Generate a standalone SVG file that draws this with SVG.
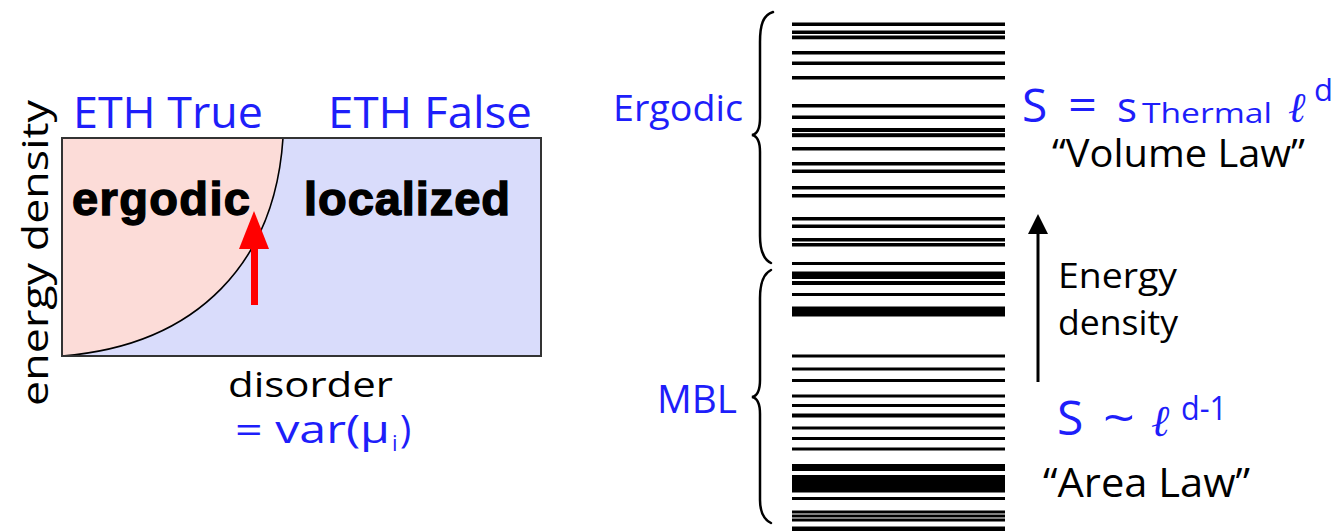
<svg xmlns="http://www.w3.org/2000/svg" width="1342" height="531" viewBox="0 0 1342 531">
<style>
.blue{fill:#1e1efa;font-family:"Open Sans","Liberation Sans",sans-serif}
.blk{fill:#000;font-family:"Open Sans","Liberation Sans",sans-serif}
.bold{fill:#000;font-family:"Liberation Sans","DejaVu Sans",sans-serif;font-weight:bold;stroke:#000;stroke-width:1.4}
.script{font-family:"Liberation Serif","DejaVu Serif",serif;font-style:italic}
.brace{fill:none;stroke:#000;stroke-width:2.5;stroke-linecap:round}
.bars rect{fill:#000}
</style>
<rect width="1342" height="531" fill="#fff"/>

<g id="phase-diagram">
  <rect x="62" y="138" width="479" height="218" fill="#d9dcfb"/>
  <path d="M62,138 L283,138 C275,260 200,345 62,356 Z" fill="#fcdcd8"/>
  <path d="M283,138 C275,260 200,345 62,356" fill="none" stroke="#000" stroke-width="1.6"/>
  <rect x="62" y="138" width="479" height="218" fill="none" stroke="#333" stroke-width="2"/>
  <text class="bold" x="72" y="215" font-size="47" textLength="178" lengthAdjust="spacing">ergodic</text>
  <text class="bold" x="304" y="215" font-size="47" textLength="206" lengthAdjust="spacing">localized</text>
</g>

<g id="red-arrow">
  <rect x="251" y="246" width="7" height="59" fill="#ff0000"/>
  <polygon points="239,249 269,249 254,211" fill="#ff0000"/>
</g>

<g id="axis-labels">
  <text class="blue" x="73" y="128" font-size="44" textLength="190" lengthAdjust="spacingAndGlyphs">ETH True</text>
  <text class="blue" x="328" y="128" font-size="44" textLength="204" lengthAdjust="spacingAndGlyphs">ETH False</text>
  <text class="blk" transform="translate(48,253) rotate(-90)" text-anchor="middle" font-size="37" textLength="306" lengthAdjust="spacingAndGlyphs">energy density</text>
  <text class="blk" x="228" y="397" font-size="35" textLength="165" lengthAdjust="spacingAndGlyphs">disorder</text>
  <text class="blue" x="235" y="443" font-size="38" textLength="155" lengthAdjust="spacingAndGlyphs">= var(μ</text>
  <text class="blue" x="392" y="451" font-size="22">i</text>
  <text class="blue" x="400" y="443" font-size="38">)</text>
</g>

<g id="spectrum" class="bars">
  <rect x="792" y="22.5" width="213" height="3.5"/>
  <rect x="792" y="30.5" width="213" height="3.5"/>
  <rect x="792" y="35.5" width="213" height="3.8"/>
  <rect x="792" y="51" width="213" height="3.5"/>
  <rect x="792" y="61.5" width="213" height="3.5"/>
  <rect x="792" y="76" width="213" height="3.5"/>
  <rect x="792" y="104" width="213" height="3.5"/>
  <rect x="792" y="115.5" width="213" height="3.5"/>
  <rect x="792" y="128" width="213" height="4"/>
  <rect x="792" y="133.2" width="213" height="4"/>
  <rect x="792" y="147" width="213" height="3.5"/>
  <rect x="792" y="162" width="213" height="3.5"/>
  <rect x="792" y="169.5" width="213" height="3.5"/>
  <rect x="792" y="186" width="213" height="3.5"/>
  <rect x="792" y="194" width="213" height="3.5"/>
  <rect x="792" y="217" width="213" height="3.5"/>
  <rect x="792" y="224.5" width="213" height="3.5"/>
  <rect x="792" y="238" width="213" height="3.5"/>
  <rect x="792" y="243" width="213" height="3.5"/>
  <rect x="792" y="262" width="213" height="3"/>
  <rect x="792" y="271.5" width="213" height="7.5"/>
  <rect x="792" y="281" width="213" height="4"/>
  <rect x="792" y="293" width="213" height="3"/>
  <rect x="792" y="306.5" width="213" height="10"/>
  <rect x="792" y="354.5" width="213" height="3"/>
  <rect x="792" y="367.5" width="213" height="3"/>
  <rect x="792" y="379" width="213" height="3"/>
  <rect x="792" y="394.5" width="213" height="3"/>
  <rect x="792" y="404" width="213" height="3"/>
  <rect x="792" y="413.5" width="213" height="4"/>
  <rect x="792" y="426.5" width="213" height="3"/>
  <rect x="792" y="437" width="213" height="3"/>
  <rect x="792" y="447.5" width="213" height="3"/>
  <rect x="792" y="464" width="213" height="7"/>
  <rect x="792" y="475" width="213" height="17.5"/>
  <rect x="792" y="497" width="213" height="3"/>
  <rect x="792" y="510.5" width="213" height="3"/>
  <rect x="792" y="514.5" width="213" height="3"/>
  <rect x="792" y="518.5" width="213" height="3"/>
  <rect x="792" y="526.5" width="213" height="4.5"/>
</g>

<g id="ergodic-brace">
  <path class="brace" d="M773,12 C763,15 760,25 760,42 L760,118 C760,129 757,134 752,135 C757,136 760,141 760,152 L760,236 C760,250 763,259 771,263"/>
  <text class="blue" x="613" y="121" font-size="37" textLength="130" lengthAdjust="spacingAndGlyphs">Ergodic</text>
</g>

<g id="mbl-brace">
  <path class="brace" d="M771,270 C763,274 760,283 760,298 L760,380 C760,391 757,396 752,397 C757,398 760,403 760,414 L760,500 C760,512 763,519 771,523"/>
  <text class="blue" x="657" y="413" font-size="38" textLength="80" lengthAdjust="spacingAndGlyphs">MBL</text>
</g>

<g id="volume-law">
  <text class="blue" x="1022" y="122" font-size="46">S</text>
  <text class="blue" x="1068" y="121" font-size="44" textLength="29" lengthAdjust="spacingAndGlyphs">=</text>
  <text class="blue" x="1117" y="122" font-size="42">s</text>
  <text class="blue" x="1142" y="123" font-size="28" textLength="130" lengthAdjust="spacingAndGlyphs">Thermal</text>
  <text class="blue script" x="1288" y="122" font-size="42">ℓ</text>
  <text class="blue" x="1314" y="101" font-size="31">d</text>
  <text class="blk" x="1052" y="167" font-size="38" textLength="253" lengthAdjust="spacingAndGlyphs">“Volume Law”</text>
</g>

<g id="energy-arrow">
  <line x1="1038" y1="382" x2="1038" y2="228" stroke="#000" stroke-width="3"/>
  <polygon points="1028,234 1048,234 1038,214" fill="#000"/>
  <text class="blk" x="1058" y="288" font-size="35" textLength="119" lengthAdjust="spacingAndGlyphs">Energy</text>
  <text class="blk" x="1058" y="335" font-size="35" textLength="120" lengthAdjust="spacingAndGlyphs">density</text>
</g>

<g id="area-law">
  <text class="blue" x="1057" y="435" font-size="48">S</text>
  <text class="blue" x="1103" y="435" font-size="48" textLength="32" lengthAdjust="spacingAndGlyphs">~</text>
  <text class="blue script" x="1151" y="436" font-size="44">ℓ</text>
  <text class="blue" x="1181" y="420" font-size="32" textLength="46" lengthAdjust="spacingAndGlyphs">d-1</text>
  <text class="blk" x="1043" y="497" font-size="40" textLength="207" lengthAdjust="spacingAndGlyphs">“Area Law”</text>
</g>
</svg>
